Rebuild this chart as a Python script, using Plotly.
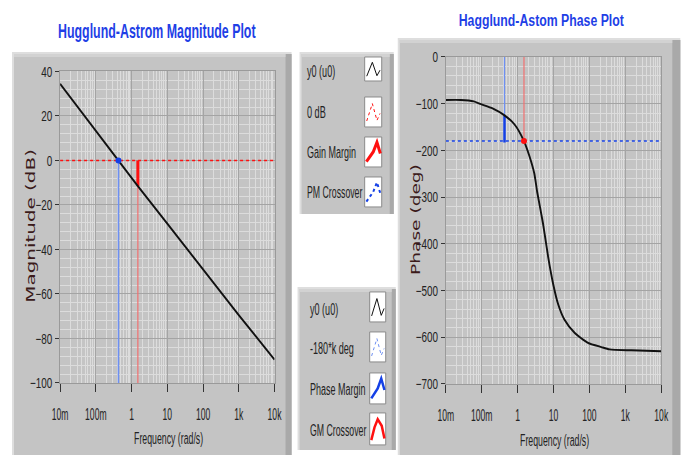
import json
import plotly.graph_objects as go

W, H = 681, 455

# ---------------- data ----------------
mag_freq = [0.01, 0.1, 0.42, 1.5, 10, 100, 1000, 10000]
mag_db = [34.5, 13.3, 0, -11.5, -28.4, -49, -69.5, -89.5]

phase_freq = [0.01, 0.026, 0.06, 0.095, 0.2, 0.43, 0.81, 1.48, 2.1, 2.9, 3.5,
              5.1, 7.1, 9.8, 13.5, 20, 39, 91, 214, 365, 1480, 10000]
phase_deg = [-92, -92, -95, -101, -110, -125, -144, -179, -211, -249, -289,
             -357, -429, -487, -530, -562, -591, -612, -621, -626, -628, -630]

freq_range = [0.01, 10000]
freq_ticks = [0.01, 0.1, 1, 10, 100, 1000, 10000]
freq_labels = ["10m", "100m", "1", "10", "100", "1k", "10k"]
mag_range = [-100, 40]
phase_range = [-700, 0]

pm_freq = 0.43          # 0 dB crossover (phase-margin) frequency
gm_freq = 1.5           # -180 deg crossover (gain-margin) frequency
zero_db = 0
gain_at_gm = -11.5
phase_at_pm = -126
minus180 = -180
pm_bar_end = -183

legend1 = ["y0 (u0)", "0 dB", "Gain Margin", "PM Crossover"]
legend2 = ["y0 (u0)", "-180*k deg", "Phase Margin", "GM Crossover"]

# ---------------- placement helpers ----------------
# the photographed page is framed slightly smaller than the window,
# so positions given in target-picture pixels are mapped through that framing
SX, SY, OX, OY = 0.957, 0.965, 15.0, 8.0


def px(x):
    return (x - OX) / SX / W


def py(y):
    return 1 - (y - OY) / SY / H


def fs(s):
    return s / ((SX + SY) / 2)


FONT = "Liberation Sans, Arial, sans-serif"
RED = "#ff1010"
LRED = "#f07070"
BLUE = "#1440e6"
LBLUE = "#6d8ff2"

fig = go.Figure()

# ---------------- magnitude plot ----------------
fig.add_trace(go.Scatter(x=freq_range, y=[zero_db, zero_db], mode="lines",
                         line=dict(color=RED, width=1.6, dash="dot"),
                         xaxis="x", yaxis="y", showlegend=False))
fig.add_trace(go.Scatter(x=[pm_freq, pm_freq], y=[zero_db, mag_range[0]], mode="lines",
                         line=dict(color=LBLUE, width=1.5), xaxis="x", yaxis="y",
                         showlegend=False))
fig.add_trace(go.Scatter(x=[gm_freq, gm_freq], y=[gain_at_gm, mag_range[0]], mode="lines",
                         line=dict(color=LRED, width=1.2), xaxis="x", yaxis="y",
                         showlegend=False))
fig.add_trace(go.Scatter(x=[gm_freq, gm_freq], y=[zero_db, gain_at_gm], mode="lines",
                         line=dict(color=RED, width=3), xaxis="x", yaxis="y",
                         showlegend=False))
fig.add_trace(go.Scatter(x=mag_freq, y=mag_db, mode="lines",
                         line=dict(color="#111111", width=1.9), xaxis="x", yaxis="y",
                         showlegend=False))
fig.add_trace(go.Scatter(x=[pm_freq], y=[zero_db], mode="markers",
                         marker=dict(color=BLUE, size=6), xaxis="x", yaxis="y",
                         showlegend=False))

# ---------------- phase plot ----------------
fig.add_trace(go.Scatter(x=freq_range, y=[minus180, minus180], mode="lines",
                         line=dict(color=BLUE, width=1.6, dash="dot"),
                         xaxis="x2", yaxis="y2", showlegend=False))
fig.add_trace(go.Scatter(x=[pm_freq, pm_freq], y=[phase_range[1], phase_at_pm], mode="lines",
                         line=dict(color=LBLUE, width=1.2), xaxis="x2", yaxis="y2",
                         showlegend=False))
fig.add_trace(go.Scatter(x=[pm_freq, pm_freq], y=[phase_at_pm, pm_bar_end], mode="lines",
                         line=dict(color=BLUE, width=2.5), xaxis="x2", yaxis="y2",
                         showlegend=False))
fig.add_trace(go.Scatter(x=[gm_freq, gm_freq], y=[phase_range[1], minus180], mode="lines",
                         line=dict(color=LRED, width=1.2), xaxis="x2", yaxis="y2",
                         showlegend=False))
fig.add_trace(go.Scatter(x=phase_freq, y=phase_deg, mode="lines",
                         line=dict(color="#111111", width=1.9, shape="spline", smoothing=0.6),
                         xaxis="x2", yaxis="y2", showlegend=False))
fig.add_trace(go.Scatter(x=[gm_freq], y=[minus180], mode="markers",
                         marker=dict(color=RED, size=6), xaxis="x2", yaxis="y2",
                         showlegend=False))

# ---------------- axes ----------------
def xaxis_cfg(dom, anchor):
    return dict(domain=dom, anchor=anchor, type="log", range=[-2, 4],
                tickmode="array", tickvals=freq_ticks, ticktext=freq_labels,
                tickangle=0,
                ticks="outside", ticklen=8, tickcolor="#333", tickwidth=1,
                ticklabelstandoff=9,
                tickfont=dict(family=FONT, size=fs(15), color="#222"),
                showgrid=True, gridcolor="#a4a4a4", gridwidth=1.3,
                minor=dict(dtick="D1", showgrid=True, gridcolor="#dcdcdc", gridwidth=1, ticks=""),
                showline=True, linecolor="#9a9a9a", mirror=True, zeroline=False,
                fixedrange=True)


def yaxis_cfg(dom, anchor, rng, dt):
    return dict(domain=dom, anchor=anchor, range=rng, dtick=dt, tick0=0,
                ticks="outside", ticklen=4, tickcolor="#333",
                tickfont=dict(family=FONT, size=fs(14), color="#222"),
                showgrid=True, gridcolor="#a4a4a4", gridwidth=1.3,
                minor=dict(dtick=dt / 5, showgrid=True, gridcolor="#dcdcdc", gridwidth=1, ticks=""),
                showline=True, linecolor="#9a9a9a", mirror=True, zeroline=False,
                fixedrange=True)


layout = dict(
    width=W, height=H, autosize=False,
    margin=dict(l=0, r=0, t=0, b=0),
    paper_bgcolor="white", plot_bgcolor="#fbfbfb",
    xaxis=xaxis_cfg([px(60), px(274)], "y"),
    yaxis=yaxis_cfg([py(383), py(71.5)], "x", mag_range, 20),
    xaxis2=xaxis_cfg([px(445), px(660)], "y2"),
    yaxis2=yaxis_cfg([py(384), py(57)], "x2", phase_range, 100),
)
fig.update_layout(**layout)

# ---------------- panels (frames) ----------------
shapes = []


def rect(x0, y0, x1, y1, fill, line=None, layer="below"):
    shapes.append(dict(type="rect", xref="paper", yref="paper", layer=layer,
                       x0=px(x0), x1=px(x1), y0=py(y1), y1=py(y0),
                       fillcolor=fill, line=dict(width=0) if line is None else line))


def panel(x0, y0, x1, y1, edge=6):
    rect(x0, y0, x1, y1, "#dedede")
    rect(x0 + 2, y0 + 2, x1, y1, "#c4c4c4")
    rect(x1 - edge, y0 + 2, x1, y1, "#a9a9a9")
    rect(x0 + 2, y0 + 2, x1 - edge, y0 + 5, "#d2d2d2")


panel(12, 52, 291, 470)
panel(397, 38, 679, 470, edge=8)
panel(299, 52, 393, 214, edge=4)
panel(297, 287, 395, 450, edge=4)


# legend icon boxes + glyphs
def icon_box(x0, y0, x1, y1):
    rect(x0, y0, x1, y1, "white", line=dict(color="#8a8a8a", width=1), layer="above")


def glyph(x0, y0, x1, y1, pts, color, width, dash="solid"):
    w, h = x1 - x0, y1 - y0
    path = ""
    for i, (u, v) in enumerate(pts):
        X = px(x0 + u * w)
        Y = py(y0 + v * h)
        path += ("M" if i == 0 else "L") + f"{X:.5f},{Y:.5f} "
    shapes.append(dict(type="path", xref="paper", yref="paper", layer="above",
                       path=path, line=dict(color=color, width=width, dash=dash)))


wave = [(0.12, 0.8), (0.45, 0.22), (0.72, 0.78), (0.9, 0.55)]
rise = [(0.1, 0.82), (0.5, 0.5), (0.72, 0.18), (0.92, 0.55)]
peak = [(0.1, 0.85), (0.3, 0.45), (0.5, 0.2), (0.75, 0.4), (0.92, 0.8)]

boxes1 = [(364, 57, 381, 81), (364, 97, 381, 127), (364, 137, 381, 167), (364, 177, 381, 207)]
styles1 = [(wave, "#111", 1, "solid"), (wave, RED, 1, "dot"),
           (rise, RED, 3, "solid"), (rise, BLUE, 2, "dot")]
for b, (pts, c, w, d) in zip(boxes1, styles1):
    icon_box(*b)
    glyph(*b, pts, c, w, d)

boxes2 = [(369, 292, 385, 322), (369, 332, 385, 362), (369, 373, 385, 404), (369, 413, 385, 445)]
styles2 = [(wave, "#111", 1, "solid"), (wave, LBLUE, 1, "dot"),
           (rise, BLUE, 2.5, "solid"), (peak, RED, 2.5, "solid")]
for b, (pts, c, w, d) in zip(boxes2, styles2):
    icon_box(*b)
    glyph(*b, pts, c, w, d)

fig.update_layout(shapes=shapes)

# ---------------- text ----------------
ann = []


def text(x, y, s, size=12, color="#222", family=FONT, angle=0, xanchor="center", weight="normal"):
    ann.append(dict(x=px(x), y=py(y), xref="paper", yref="paper", showarrow=False,
                    text=s, textangle=angle, xanchor=xanchor, yanchor="middle",
                    align="left" if xanchor == "left" else "center", borderpad=0,
                    font=dict(family=family, size=fs(size), color=color, weight=weight)))


text(157, 31, "Hugglund-Astrom Magnitude Plot", size=20, color="#1f3fe6", weight="bold")
text(540, 20, "Hagglund-Astom Phase Plot", size=15.5, color="#1f3fe6", weight="bold")
text(31, 226, "Magnitude (dB)", size=12, color="#3b1a1a", family="DejaVu Sans", angle=-90)
text(415, 220, "Phase (deg)", size=12, color="#3b1a1a", family="DejaVu Sans", angle=-90)
text(168, 439, "Frequency (rad/s)", size=16, color="#222")
text(553, 441, "Frequency (rad/s)", size=16, color="#222")

for lbl, yc in zip(legend1, [72, 113, 153, 193]):
    text(305, yc, lbl, size=15, xanchor="left")
for lbl, yc in zip(legend2, [310, 349, 390, 431]):
    text(308, yc, lbl, size=15, xanchor="left")

fig.update_layout(annotations=ann)

# condense text horizontally (the reference uses a tall, narrow font)
target_widths = {"Hugglund-Astrom Magnitude Plot": 189, "Hagglund-Astom Phase Plot": 158,
                 "Frequency (rad/s)": 66, "Magnitude (dB)": 147, "Phase (deg)": 106,
                 "y0 (u0)": 27, "0 dB": 18, "Gain Margin": 47, "PM Crossover": 53,
                 "-180*k deg": 42, "Phase Margin": 53, "GM Crossover": 54}
target_widths = {k: round(v / SX, 1) for k, v in target_widths.items()}

POST = """
document.documentElement.style.margin='0';document.body.style.margin='0';
document.documentElement.style.overflow='hidden';document.body.style.overflow='hidden';
var gdv=document.querySelector('.plotly-graph-div');
gdv.style.position='fixed';gdv.style.left='0px';gdv.style.top='0px';
var targets=%s;
function fit(t,w){t.setAttribute('textLength',w);t.setAttribute('lengthAdjust','spacingAndGlyphs');}
document.querySelectorAll('.annotation-text').forEach(function(t){var w=targets[t.textContent];if(w){fit(t,w);}});
document.querySelectorAll('.xtick text, .x2tick text').forEach(function(t){fit(t,t.getComputedTextLength()*0.55);});
document.querySelectorAll('.ytick text, .y2tick text').forEach(function(t){fit(t,t.getComputedTextLength()*0.68);});
""" % json.dumps(target_widths)

fig.write_html("out.html", post_script=POST, config={"displayModeBar": False})
